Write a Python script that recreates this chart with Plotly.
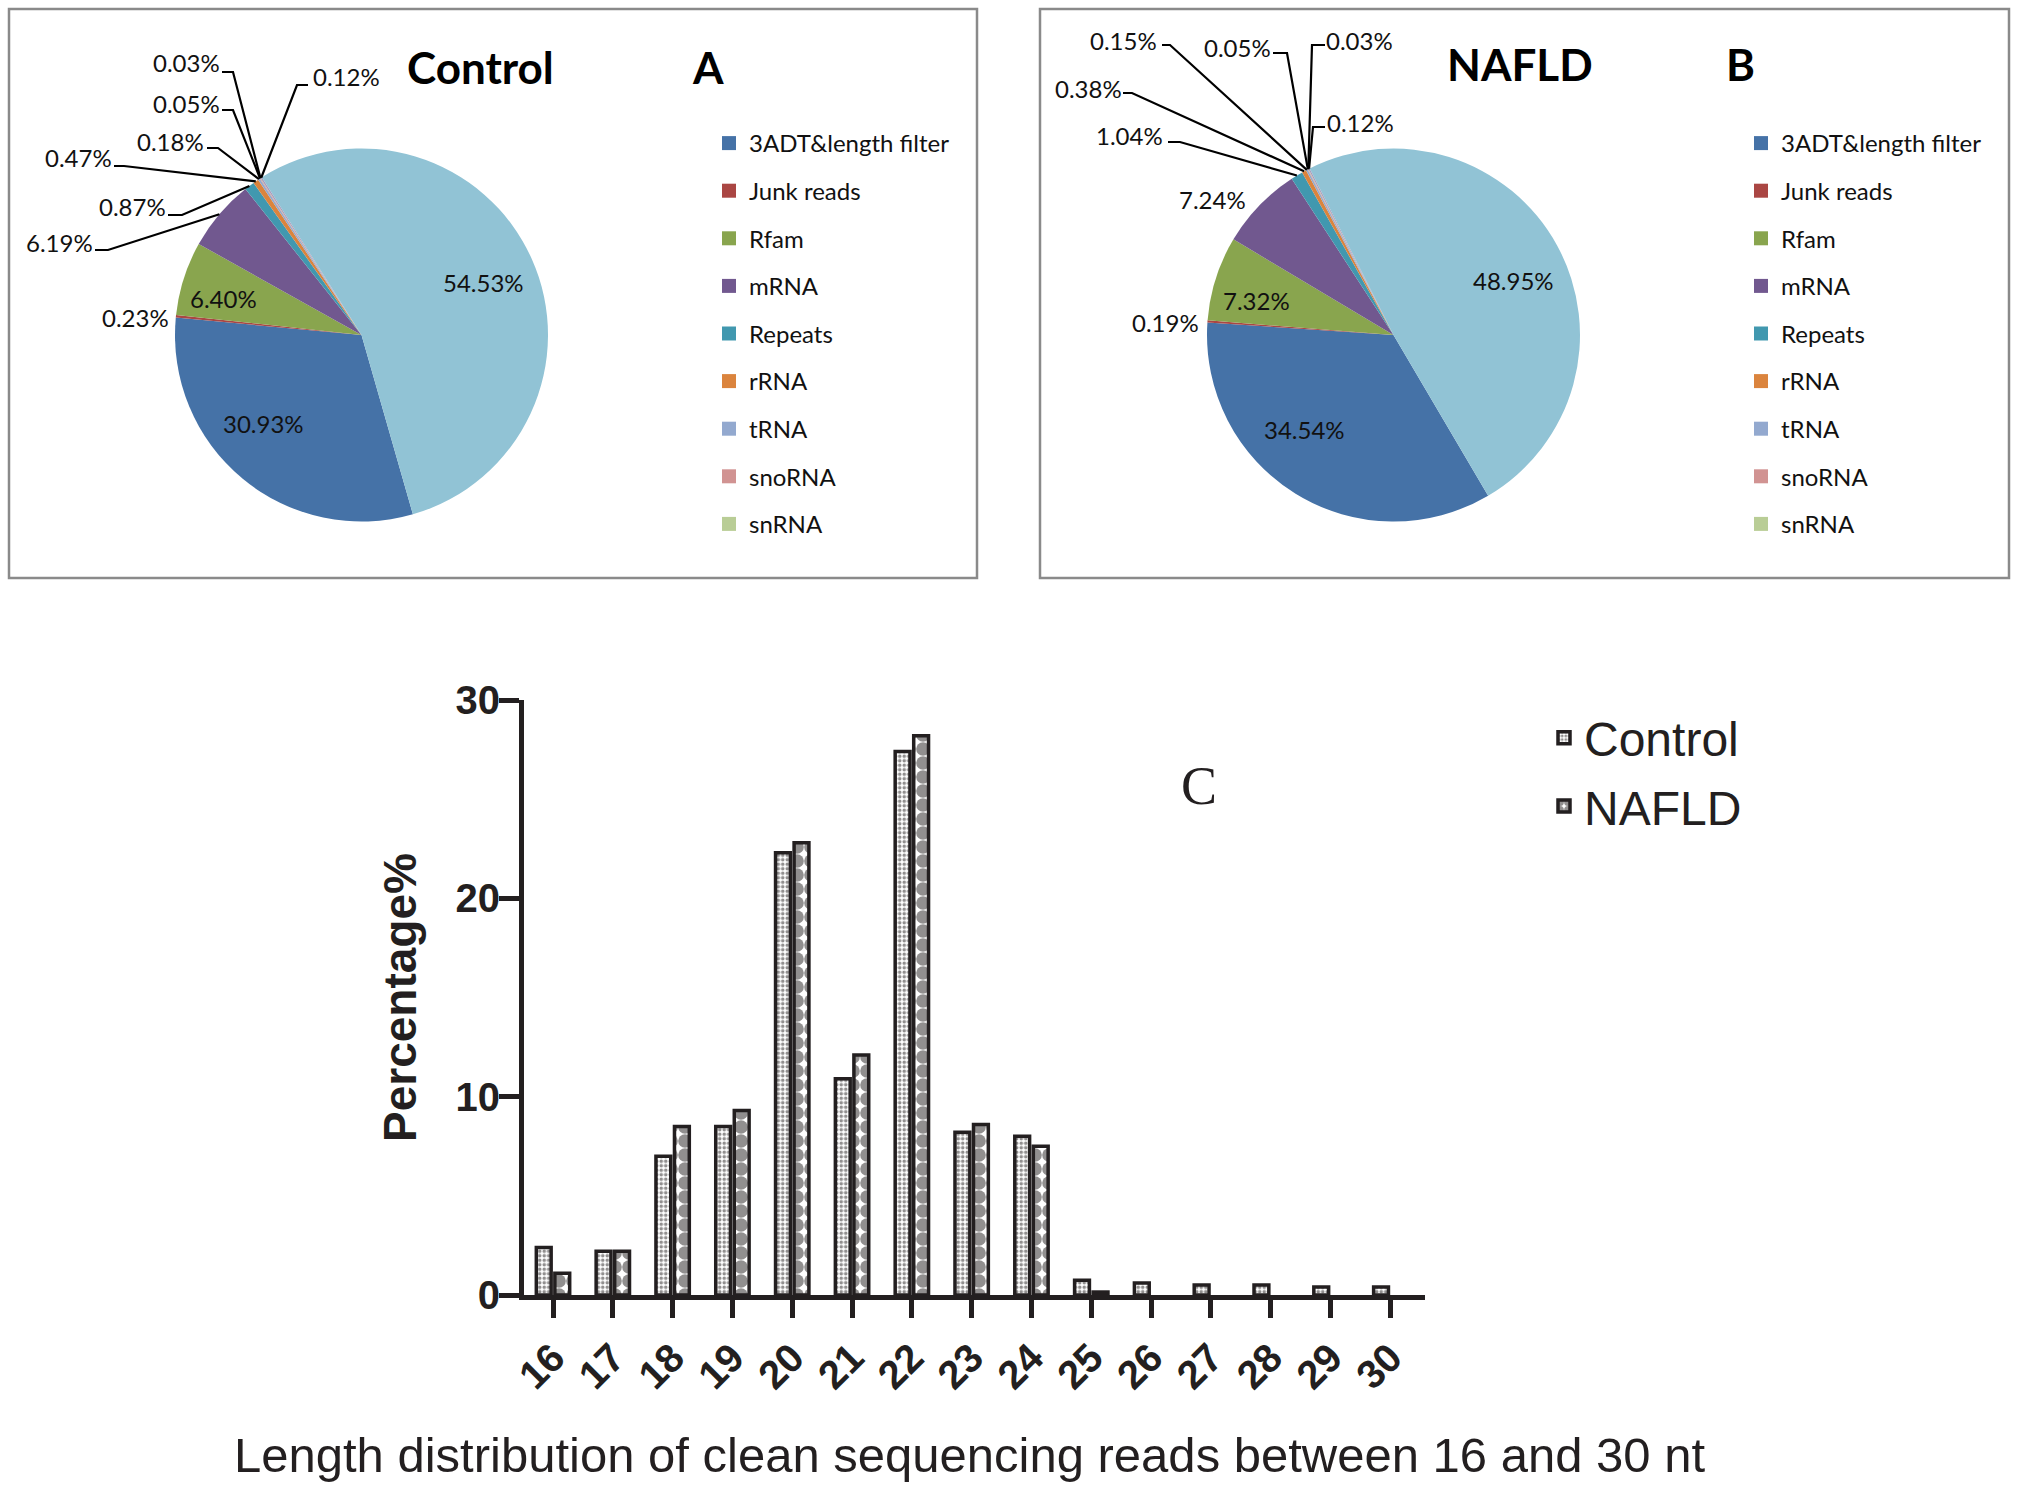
import math
import plotly.graph_objects as go

W, H = 2019, 1493

# ---------------- data ----------------
categories = ["3ADT&length filter", "Junk reads", "Rfam", "mRNA", "Repeats",
              "rRNA", "tRNA", "snoRNA", "snRNA", "other Rfam RNA", "valid reads"]
legend_categories = categories[:9]
control_pct = [30.93, 0.23, 6.40, 6.19, 0.87, 0.47, 0.18, 0.05, 0.03, 0.12, 54.53]
nafld_pct = [34.54, 0.19, 7.32, 7.24, 1.04, 0.38, 0.15, 0.05, 0.03, 0.12, 48.95]
slice_colors = ["#4572A7", "#AA4643", "#89A54E", "#71588F", "#4198AF", "#DB843D",
                "#93A9CF", "#D19392", "#B9CD96", "#A99BBD", "#91C3D5"]

lengths = [str(n) for n in range(16, 31)]
control_len = [2.4, 2.2, 7.0, 8.5, 22.3, 10.9, 27.4, 8.2, 8.0, 0.75, 0.6, 0.5, 0.5, 0.4, 0.4]
nafld_len = [1.1, 2.2, 8.5, 9.3, 22.8, 12.1, 28.2, 8.6, 7.5, 0.15, 0.0, 0.0, 0.0, 0.0, 0.0]

# ---------------- layout helpers (pixel -> paper) ----------------
def px(x):
    return x / W


def py(y):
    return 1 - y / H


LABEL_FONT = dict(family="Lato", size=24, color="#111111")
INK = "#231f20"

pies = [
    dict(name="Control", values=control_pct, cx=361.5, cy=335.0, R=186.5, rotation=164.0),
    dict(name="NAFLD", values=nafld_pct, cx=1393.5, cy=335.0, R=186.5, rotation=149.5),
]

# label placement per pie: slice index -> (text x, text y, leader start, leader elbow)
label_layout = [
    {
        0: ((263.5, 423), None),
        1: ((135, 317), None),
        2: ((223.5, 298), None),
        3: ((59, 242), ((95, 250), (108, 250))),
        4: ((132, 206), ((168, 215), (182, 215))),
        5: ((78, 158), ((114, 166), (124, 166))),
        6: ((170, 142), ((207, 148), (218, 148))),
        7: ((186.5, 103), ((222, 110), (233, 110))),
        8: ((186.5, 63), ((222, 72), (233, 72))),
        9: ((346.5, 77), ((308, 85), (297, 85))),
        10: ((483, 283), None),
    },
    {
        0: ((1304, 429), None),
        1: ((1165, 322), None),
        2: ((1256, 300), None),
        3: ((1212, 200), None),
        4: ((1129, 135), ((1168, 142), (1180, 142))),
        5: ((1088, 88), ((1123, 93), (1132, 93))),
        6: ((1123.5, 40), ((1162, 45), (1170, 45))),
        7: ((1237.5, 48), ((1273, 53), (1287, 53))),
        8: ((1359, 40), ((1325, 45), (1312, 45))),
        9: ((1360, 122), ((1325, 127), (1313, 127))),
        10: ((1513, 281), None),
    },
]

fig = go.Figure()
annotations = []
shapes = []

for k, p in enumerate(pies):
    cx, cy, R = p["cx"], p["cy"], p["R"]
    fig.add_trace(go.Pie(
        labels=categories, values=p["values"], sort=False, direction="clockwise",
        rotation=p["rotation"], textinfo="none", showlegend=False,
        marker=dict(colors=slice_colors, line=dict(width=0)),
        domain=dict(x=[px(cx - R), px(cx + R)], y=[py(cy + R), py(cy - R)]),
        name=p["name"], hoverinfo="label+percent",
    ))
    total = sum(p["values"])
    ang = p["rotation"]
    for i, v in enumerate(p["values"]):
        span = v / total * 360.0
        mid = math.radians(ang + span / 2)
        ang += span
        (tx, ty), leader = label_layout[k][i]
        annotations.append(dict(x=px(tx), y=py(ty), xref="paper", yref="paper",
                                text=f"{v:.2f}%", showarrow=False, font=LABEL_FONT,
                                xanchor="center", yanchor="middle"))
        if leader is not None:
            ex = cx + R * math.sin(mid)
            ey = cy - R * math.cos(mid)
            (sx, sy), (bx, by) = leader
            shapes.append(dict(type="path", xref="paper", yref="paper",
                               path=f"M{px(sx)},{py(sy)} L{px(bx)},{py(by)} L{px(ex)},{py(ey)}",
                               line=dict(color="#000000", width=2.2)))

# legend entries for pies (only the nine shown categories)
for leg in ["legend", "legend2"]:
    for i, c in enumerate(legend_categories):
        fig.add_trace(go.Scatter(
            x=[None], y=[None], mode="markers", name=c, legend=leg,
            legendgroup=f"{leg}_{i}",
            marker=dict(symbol="square", size=14, color=slice_colors[i]),
            hoverinfo="skip", xaxis="x", yaxis="y",
        ))

# ---------------- bar chart ----------------
def outline(values):
    return [3.5 if v > 0 else 0 for v in values]


fig.add_trace(go.Bar(
    x=lengths, y=control_len, name="Control", legend="legend3", legendgroup="c",
    marker=dict(color="white", line=dict(color=INK, width=outline(control_len)),
                pattern=dict(shape=".", size=4.5, solidity=0.5, fgcolor=INK, bgcolor="white")),
))
fig.add_trace(go.Bar(
    x=lengths, y=nafld_len, name="NAFLD", legend="legend3", legendgroup="n",
    marker=dict(color="white", line=dict(color=INK, width=outline(nafld_len)),
                pattern=dict(shape=".", size=14, solidity=0.75, fgcolor=INK, bgcolor="white")),
))

# panel frames
shapes.append(dict(type="rect", xref="paper", yref="paper", x0=px(9), x1=px(977), y0=py(578), y1=py(9),
                   line=dict(color="#8a8a8a", width=2.5), layer="below"))
shapes.append(dict(type="rect", xref="paper", yref="paper", x0=px(1040), x1=px(2009), y0=py(578), y1=py(9),
                   line=dict(color="#8a8a8a", width=2.5), layer="below"))

# titles
title_font = dict(family="Lato", size=44, color="#000000", weight="bold")
for txt, x, y in [("Control", 480, 67), ("A", 708, 67), ("NAFLD", 1520, 64), ("B", 1740, 64)]:
    annotations.append(dict(x=px(x), y=py(y), xref="paper", yref="paper", text=txt, showarrow=False,
                            font=title_font, xanchor="center", yanchor="middle"))
annotations.append(dict(x=px(1199), y=py(786), xref="paper", yref="paper", text="C", showarrow=False,
                        font=dict(family="Liberation Serif", size=54, color=INK),
                        xanchor="center", yanchor="middle"))
annotations.append(dict(x=px(969), y=py(1455), xref="paper", yref="paper",
                        text="Length distribution of clean sequencing reads between 16 and 30 nt",
                        showarrow=False, font=dict(family="Liberation Sans", size=49, color=INK),
                        xanchor="center", yanchor="middle"))

pie_legend_font = dict(family="Lato", size=24, color="#111111")
fig.update_layout(
    width=W, height=H, margin=dict(l=0, r=0, t=0, b=0, pad=0, autoexpand=False),
    paper_bgcolor="white", plot_bgcolor="white",
    barmode="group", bargap=0.38, bargroupgap=0.2,
    xaxis=dict(domain=[px(524), px(1425)], type="category", categoryorder="array",
               categoryarray=lengths, range=[-0.485, 14.58], automargin=False,
               showline=True, linewidth=5, linecolor=INK, showgrid=False, zeroline=False,
               ticks="outside", ticklen=18, tickwidth=5, tickcolor=INK, tickangle=-45,
               tickfont=dict(family="Liberation Sans", size=40, color=INK, weight="bold")),
    yaxis=dict(domain=[py(1295), py(700)], range=[0, 30], tickvals=[0, 10, 20, 30], automargin=False,
               showline=True, linewidth=5, linecolor=INK, showgrid=False, zeroline=False,
               ticks="outside", ticklen=20, tickwidth=5, tickcolor=INK, ticklabelstandoff=-9,
               tickfont=dict(family="Liberation Sans", size=40, color=INK, weight="bold"),
               title=dict(text="Percentage%", standoff=26,
                          font=dict(family="Liberation Sans", size=46, color=INK, weight="bold"))),
    legend=dict(x=px(709), y=py(121), xanchor="left", yanchor="top", font=pie_legend_font,
                tracegroupgap=13.4, bgcolor="rgba(0,0,0,0)", itemclick=False, itemdoubleclick=False),
    legend2=dict(x=px(1741), y=py(121), xanchor="left", yanchor="top", font=pie_legend_font,
                 tracegroupgap=13.4, bgcolor="rgba(0,0,0,0)", itemclick=False, itemdoubleclick=False),
    legend3=dict(x=px(1544), y=py(700), xanchor="left", yanchor="top",
                 font=dict(family="Liberation Sans", size=48, color=INK),
                 tracegroupgap=3, bgcolor="rgba(0,0,0,0)"),
    annotations=annotations, shapes=shapes,
)

fig.write_html("out.html", config={"displayModeBar": False},
               post_script="document.body.style.margin='0px';")
